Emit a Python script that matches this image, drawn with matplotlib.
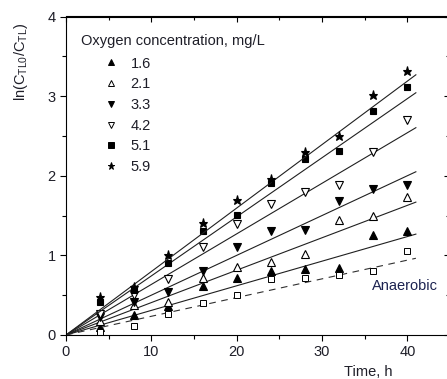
import matplotlib
matplotlib.use("Agg")
import matplotlib.pyplot as plt
from matplotlib.lines import Line2D
from matplotlib.ticker import MultipleLocator

plt.rcParams["font.family"] = ["Liberation Sans", "DejaVu Sans"]
plt.rcParams["mathtext.fontset"] = "custom"
plt.rcParams["mathtext.rm"] = "Liberation Sans"

# -----------------------------
# Data
# -----------------------------
time_h = [4, 8, 12, 16, 20, 24, 28, 32, 36, 40]

conc_labels = ["1.6", "2.1", "3.3", "4.2", "5.1", "5.9"]

ln_16 = [0.10, 0.25, 0.36, 0.62, 0.71, 0.80, 0.83, 0.84, 1.25, 1.31]
ln_21 = [0.18, 0.38, 0.42, 0.72, 0.86, 0.92, 1.02, 1.44, 1.49, 1.73]
ln_33 = [0.22, 0.42, 0.54, 0.81, 1.10, 1.30, 1.32, 1.68, 1.83, 1.89]
ln_42 = [0.27, 0.50, 0.70, 1.10, 1.39, 1.65, 1.79, 1.88, 2.30, 2.70]
ln_51 = [0.41, 0.57, 0.90, 1.31, 1.51, 1.91, 2.21, 2.31, 2.81, 3.11]
ln_59 = [0.48, 0.60, 1.00, 1.41, 1.70, 1.96, 2.30, 2.50, 3.01, 3.31]
ln_anaerobic = [0.04, 0.11, 0.27, 0.40, 0.50, 0.70, 0.71, 0.75, 0.81, 1.05]

# slopes of the fitted lines, 1/h
slopes = [0.0309, 0.0407, 0.0500, 0.0635, 0.0742, 0.0797]
slope_anaerobic = 0.0235
fit_t = [0, 41]

series = [ln_16, ln_21, ln_33, ln_42, ln_51, ln_59]
markers = ["^", "^", "v", "v", "s", "*"]
filled = [True, False, True, False, True, True]
msizes = [6, 6, 6, 6, 5, 6.5]

# -----------------------------
# Plot
# -----------------------------
fig = plt.figure(figsize=(4.47, 3.79), dpi=100)
ax = fig.add_axes([66 / 447, 44 / 379, 384 / 447, 318.5 / 379])

ink = "#1e1e28"

for y, k, m, f, ms in zip(series, slopes, markers, filled, msizes):
    ax.plot(fit_t, [k * t for t in fit_t], color="#202020", lw=0.8)
    ax.plot(time_h, y, ls="none", marker=m, ms=ms,
            mfc="black" if f else "white", mec="black", mew=0.8)

ax.plot(fit_t, [slope_anaerobic * t for t in fit_t], color="#303030",
        lw=0.8, ls=(0, (6, 5)))
ax.plot(time_h, ln_anaerobic, ls="none", marker="s", ms=4.5,
        mfc="white", mec="black", mew=0.7)

ax.text(35.8, 0.61, "Anaerobic", fontsize=10.5, color="#1c2350",
        va="center", ha="left")

# -----------------------------
# Legend
# -----------------------------
handles = [Line2D([], [], ls="none", marker=m, ms=ms * 0.8,
                  mfc="black" if f else "white", mec="black", mew=0.7)
           for m, f, ms in zip(markers, filled, msizes)]
leg = ax.legend(handles, conc_labels, title="Oxygen concentration, mg/L",
                loc="upper left", bbox_to_anchor=(0.012, 0.9765),
                frameon=False, fontsize=10.5, title_fontsize=10.5,
                alignment="left", handlelength=4.1, handletextpad=-0.68,
                labelspacing=0.46, borderpad=0.2)
leg._legend_box.sep = 6
for t in leg.get_texts():
    t.set_color(ink)
leg.get_title().set_color(ink)

# -----------------------------
# Formatting
# -----------------------------
ax.set_xlim(0, 45)
ax.set_ylim(0, 4)
ax.xaxis.set_major_locator(MultipleLocator(10))
ax.xaxis.set_minor_locator(MultipleLocator(5))
ax.yaxis.set_major_locator(MultipleLocator(1))
ax.yaxis.set_minor_locator(MultipleLocator(0.5))

ax.tick_params(which="both", direction="out", top=False, right=False,
               labelsize=10.5, labelcolor=ink, width=0.8)
ax.tick_params(which="major", length=4)
ax.tick_params(which="minor", length=3)

# mirrored inward ticks on top / right
sec_x = ax.secondary_xaxis("top")
sec_x.xaxis.set_major_locator(MultipleLocator(10))
sec_x.xaxis.set_minor_locator(MultipleLocator(5))
sec_x.tick_params(which="both", direction="in", labeltop=False, width=0.8)
sec_x.tick_params(which="major", length=4)
sec_x.tick_params(which="minor", length=3)
sec_y = ax.secondary_yaxis("right")
sec_y.yaxis.set_major_locator(MultipleLocator(1))
sec_y.yaxis.set_minor_locator(MultipleLocator(0.5))
sec_y.tick_params(which="both", direction="in", labelright=False, width=0.8)
sec_y.tick_params(which="major", length=4)
sec_y.tick_params(which="minor", length=3)

for s in ax.spines.values():
    s.set_linewidth(0.8)
sec_x.spines["top"].set_linewidth(0.8)
sec_y.spines["right"].set_linewidth(0.8)

ax.set_xlabel("Time, h", fontsize=10.5, color=ink)
ax.xaxis.set_label_coords(35.4 / 45, -0.095)
ax.set_ylabel(r"ln(C$_{\rm TL0}$/C$_{\rm TL}$)", fontsize=10.5, color=ink)
ax.yaxis.set_label_coords(-0.095, 0.857)

fig.savefig("out.png", dpi=100)
